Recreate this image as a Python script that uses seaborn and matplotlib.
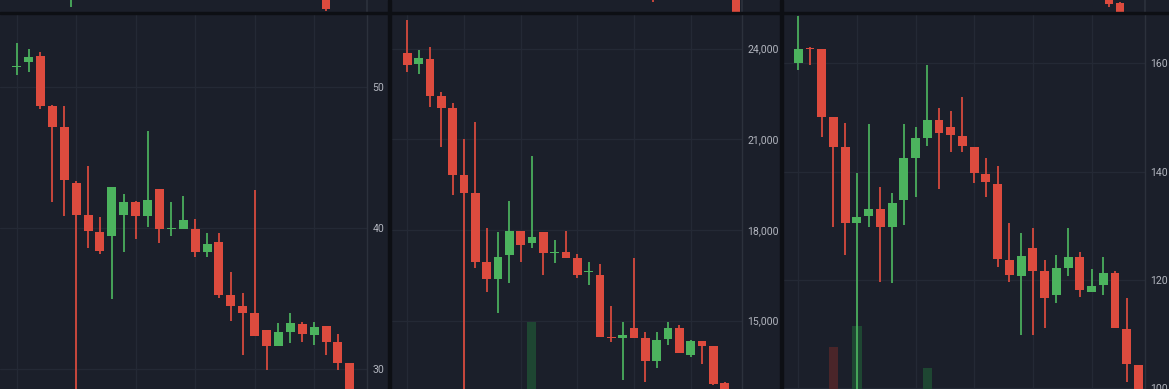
import numpy as np
import matplotlib
matplotlib.use("Agg")
import matplotlib.pyplot as plt
from matplotlib.patches import Rectangle
import seaborn as sns

# ---------------- data ----------------
p1_open = [51.45, 51.82, 52.22, 48.70, 47.21, 43.18, 40.93, 39.70, 39.40, 40.93, 41.88, 40.82, 42.78, 39.90, 39.92,
           39.94, 38.28, 39.00, 35.21, 34.43, 33.95, 32.77, 31.59, 32.65, 33.20, 32.41, 33.05, 31.94, 30.45]
p1_high = [53.12, 52.70, 52.49, 48.75, 48.67, 43.37, 44.44, 40.77, 42.90, 42.40, 41.90, 46.92, 42.80, 41.88, 42.28,
           40.65, 39.63, 39.63, 36.91, 35.42, 42.71, 32.77, 33.24, 33.95, 33.36, 33.36, 33.05, 32.46, 30.45]
p1_low = [50.88, 51.11, 48.44, 41.88, 40.89, 26.00, 38.57, 38.17, 34.97, 38.28, 39.20, 40.10, 38.92, 39.40, 39.92,
          37.93, 37.93, 35.02, 33.43, 31.00, 32.30, 29.93, 31.59, 31.87, 31.94, 31.70, 31.00, 29.93, 27.00]
p1_close = [51.50, 52.18, 48.70, 47.21, 43.42, 40.93, 39.82, 38.40, 42.90, 41.88, 40.82, 42.00, 39.92, 39.95, 40.58,
            38.28, 38.88, 35.21, 34.43, 33.95, 32.30, 31.59, 32.65, 33.24, 32.46, 33.00, 31.94, 30.45, 27.50]
p1_vol = [0] * 29
p1_ticks = [30, 40, 50]

p2_open = [23868, 23482, 23647, 22445, 22026, 19820, 19213, 16952, 16367, 17173, 17967, 17559, 17923, 17240, 17261,
           17062, 16610, 16510, 14450, 14426, 14745, 14437, 13676, 14382, 14745, 13863, 14327, 14173, 12948]
p2_high = [24949, 23956, 24066, 22577, 22191, 21000, 21577, 18055, 17945, 18960, 17967, 20459, 17923, 17669, 17967,
           17206, 16952, 16863, 15485, 14967, 17084, 14635, 14635, 14967, 14856, 14360, 14327, 14173, 12980]
p2_low = [23239, 23162, 22081, 20757, 19158, 12000, 16732, 15959, 15264, 16257, 16952, 17393, 16510, 16896, 17062,
          16400, 16180, 14470, 14283, 13036, 14437, 12980, 13422, 14195, 13918, 13786, 13565, 12870, 12300]
p2_close = [23460, 23680, 22434, 22026, 19820, 19235, 16952, 16367, 17118, 17967, 17503, 17757, 17250, 17260, 17062,
            16510, 16630, 14470, 14430, 14525, 14437, 13676, 14360, 14745, 13918, 14327, 14173, 12904, 12400]
p2_vol = [0] * 11 + [17.9] + [0] * 17
p2_ticks = [15000, 18000, 21000, 24000]

p3_open = [160.12, 162.90, 162.58, 150.15, 144.62, 130.46, 131.83, 133.10, 129.72, 134.77, 142.46, 146.28, 149.54,
           148.31, 146.65, 144.62, 139.57, 137.66, 123.69, 120.74, 125.85, 121.72, 117.23, 122.15, 124.31, 117.85,
           119.08, 121.35, 110.95, 104.31]
p3_high = [168.74, 162.95, 162.58, 150.15, 149.05, 139.69, 148.74, 137.10, 136.12, 148.74, 148.31, 159.69, 151.69,
           151.20, 153.72, 144.62, 142.46, 141.05, 130.46, 128.62, 129.54, 123.69, 124.62, 129.66, 125.23, 121.97,
           124.31, 121.72, 116.74, 104.31]
p3_low = [158.77, 159.70, 146.34, 129.72, 124.62, 95.00, 129.72, 119.69, 119.50, 130.15, 135.38, 144.80, 136.74,
          143.69, 143.69, 137.85, 135.38, 122.46, 119.69, 109.85, 109.85, 111.20, 115.69, 120.74, 116.80, 117.85,
          117.23, 111.08, 101.23, 98.00]
p3_close = [162.58, 162.60, 150.15, 144.62, 130.46, 131.69, 133.10, 129.72, 134.15, 142.46, 146.15, 149.54, 147.08,
            146.77, 144.80, 139.69, 138.15, 123.82, 120.92, 124.43, 121.72, 116.74, 122.15, 124.31, 118.15, 118.95,
            121.35, 111.08, 104.49, 99.00]
p3_vol = [0, 0, 0, 11.3, 0, 16.8, 0, 0, 0, 0, 0, 5.7] + [0] * 18
p3_ticks = [100, 120, 140, 160]

# tail of the chart row above (only its bottom edge is visible)
t1_pos = [4.56, 26.0]; t1_open = [14, 14]; t1_high = [16, 14]; t1_low = [5, 1.5]; t1_close = [15, 3]
t2_pos = [21.7, 29.0]; t2_open = [14, 14]; t2_high = [14, 14]; t2_low = [10, 0]; t2_close = [13.8, 0.5]
t3_pos = [26.5, 27.4]; t3_open = [14, 9]; t3_high = [14, 10]; t3_low = [5, 0]; t3_close = [8, 0.5]

# ---------------- style ----------------
BG = "#1b1f2a"
GRID = "#242935"
BORDER = "#2c313c"
SEP = "#0d0f14"
UP = "#4cb35e"
DOWN = "#dd4b3e"
VOL_UP = "#1e4632"
VOL_DOWN = "#4a2529"
TXT = "#b2b5be"

sns.set_theme(style="dark")
plt.rcParams["font.family"] = ["Liberation Sans Narrow", "Roboto", "DejaVu Sans"]

W, H = 1169, 389
fig = plt.figure(figsize=(W / 100, H / 100), dpi=100, facecolor=BG)


def candles(ax, x, o, h, l, c, width, min_body):
    x = np.asarray(x, float)
    o, h, l, c = (np.asarray(v, float) for v in (o, h, l, c))
    cols = np.where(c >= o, UP, DOWN)
    ax.vlines(x, l, h, colors=cols, lw=1.25, zorder=3)
    bottom = np.minimum(o, c)
    height = np.maximum(np.abs(c - o), min_body)
    ax.bar(x, height, width, bottom, color=cols, linewidth=0, zorder=4)


panels = [
    dict(left=0, width=367, data=(p1_open, p1_high, p1_low, p1_close), vol=p1_vol, ticks=p1_ticks,
         xlim=(-1.40, 29.44), ylim=(28.57, 55.2), fmt="{:.0f}",
         top=(t1_pos, t1_open, t1_high, t1_low, t1_close)),
    dict(left=392, width=350, data=(p2_open, p2_high, p2_low, p2_close), vol=p2_vol, ticks=p2_ticks,
         xlim=(-1.35, 29.54), ylim=(12739, 25147), fmt="{:,.0f}",
         top=(t2_pos, t2_open, t2_high, t2_low, t2_close)),
    dict(left=783, width=362, data=(p3_open, p3_high, p3_low, p3_close), vol=p3_vol, ticks=p3_ticks,
         xlim=(-1.30, 29.56), ylim=(99.88, 169.1), fmt="{:.0f}",
         top=(t3_pos, t3_open, t3_high, t3_low, t3_close)),
]

main_top = 14
for p in panels:
    ax = fig.add_axes([p["left"] / W, 0, p["width"] / W, (H - main_top) / H])
    ax.set_facecolor(BG)
    o, h, l, c = p["data"]
    n = len(o)
    idx = np.arange(n)
    ax.set_xlim(*p["xlim"])
    ax.set_ylim(*p["ylim"])
    span = p["ylim"][1] - p["ylim"][0]
    # volume (axes-fraction heights)
    vol = np.asarray(p["vol"], float)
    vcols = np.where(np.asarray(c) >= np.asarray(o), VOL_UP, VOL_DOWN)
    ax.bar(idx, vol / 100.0, 0.8, 0, color=vcols, linewidth=0, zorder=2,
           transform=ax.get_xaxis_transform())
    candles(ax, idx, o, h, l, c, 0.76, span / 375 * 1.2)
    ax.set_xticks(np.arange(0, n, 5))
    ax.set_xticklabels([])
    ax.set_yticks(p["ticks"])
    ax.set_yticklabels([p["fmt"].format(t) for t in p["ticks"]])
    ax.yaxis.tick_right()
    ax.tick_params(axis="y", length=0, pad=4, labelsize=7.6, labelcolor=TXT)
    ax.tick_params(axis="x", length=0)
    ax.grid(True, color=GRID, lw=0.9, zorder=0)
    for s in ax.spines.values():
        s.set_visible(False)
    ax.spines["right"].set_visible(True)
    ax.spines["right"].set_color(BORDER)
    ax.spines["right"].set_linewidth(1.0)

    # strip of the chart above
    axt = fig.add_axes([p["left"] / W, (H - 12) / H, p["width"] / W, 12 / H])
    axt.set_facecolor(BG)
    tp, to, th, tl, tc = p["top"]
    axt.set_xlim(*p["xlim"])
    axt.set_ylim(0, 12)
    candles(axt, tp, to, th, tl, tc, 0.7, 0.3)
    axt.set_xticks([])
    axt.set_yticks([])
    for s in axt.spines.values():
        s.set_visible(False)
    axt.spines["right"].set_visible(True)
    axt.spines["right"].set_color(BORDER)

# panel separators
for x0, w in [(388, 3), (780, 3)]:
    fig.add_artist(Rectangle((x0 / W, 0), w / W, 1, transform=fig.transFigure, color=SEP, zorder=10))
fig.add_artist(Rectangle((0, (H - 14) / H), 1, 2 / H, transform=fig.transFigure, color=SEP, zorder=10))

fig.savefig("out.png", dpi=100, facecolor=BG)
